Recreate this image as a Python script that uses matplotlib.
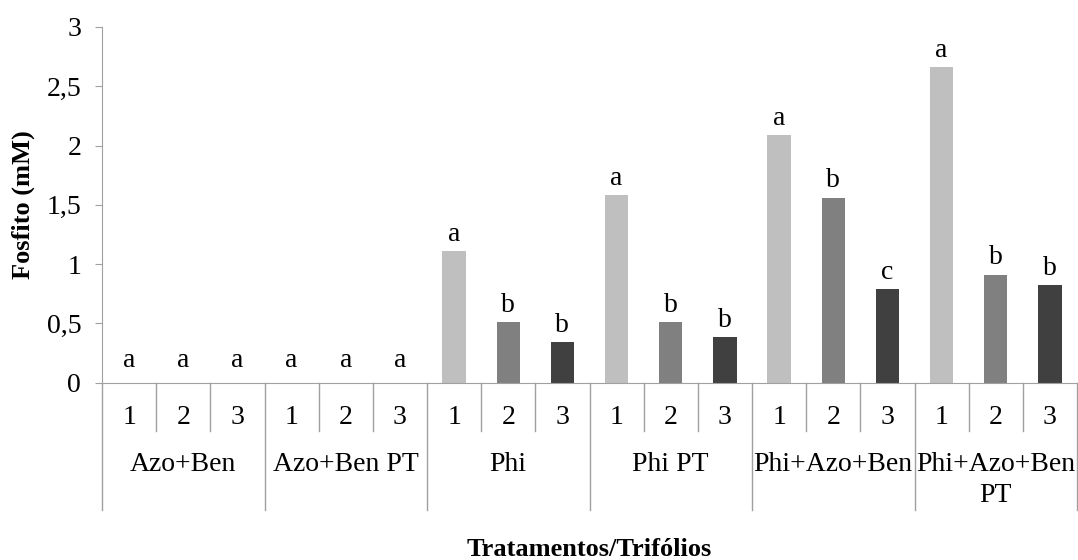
import matplotlib
matplotlib.use("Agg")
import matplotlib.pyplot as plt
from matplotlib.ticker import FuncFormatter

plt.rcParams['font.family'] = ['Liberation Serif', 'DejaVu Serif']

# Dados
tratamentos = ['Azo+Ben', 'Azo+Ben PT', 'Phi', 'Phi PT', 'Phi+Azo+Ben', 'Phi+Azo+Ben\nPT']
trifolios = ['1', '2', '3']
fosfito = [
    [0.0, 0.0, 0.0],
    [0.0, 0.0, 0.0],
    [1.11, 0.51, 0.34],
    [1.58, 0.51, 0.38],
    [2.09, 1.56, 0.79],
    [2.66, 0.91, 0.82],
]
letras = [
    ['a', 'a', 'a'],
    ['a', 'a', 'a'],
    ['a', 'b', 'b'],
    ['a', 'b', 'b'],
    ['a', 'b', 'c'],
    ['a', 'b', 'b'],
]
cores = ['#BFBFBF', '#808080', '#404040']
cinza = '#A0A0A0'

W, H = 1078, 560
fig = plt.figure(figsize=(W / 100, H / 100), dpi=100)
x0, x1, y_top, y_zero = 102, 1077, 27, 382.5
ax = fig.add_axes([x0 / W, 1 - y_zero / H, (x1 - x0) / W, (y_zero - y_top) / H])

n = len(trifolios)
fs = 20
for g, vals in enumerate(fosfito):
    for i, v in enumerate(vals):
        pos = g * n + i
        ax.bar(pos, v, width=0.43, color=cores[i], zorder=2)
        desloc = 3 if v > 0 else 7
        ax.annotate(letras[g][i], (pos, v), xytext=(0, desloc), textcoords='offset points',
                    ha='center', va='bottom', fontsize=fs)

total = len(tratamentos) * n
ax.set_xlim(-0.5, total - 0.5)
ax.set_ylim(0, 3)
ax.set_yticks([0, 0.5, 1, 1.5, 2, 2.5, 3])
ax.yaxis.set_major_formatter(FuncFormatter(lambda v, p: ('%g' % v).replace('.', ',')))
ax.tick_params(axis='y', length=5, color=cinza, labelsize=fs, pad=10)
ax.set_xticks([])
for s in ['top', 'right']:
    ax.spines[s].set_visible(False)
ax.spines['left'].set_color(cinza)
ax.spines['bottom'].set_color(cinza)

# eixo de categorias em dois niveis
alt = y_zero - y_top
def fy(px):
    return -(px - y_zero) / alt

for k in range(total + 1):
    baixo = 510 if k % n == 0 else 431
    ax.plot([k - 0.5, k - 0.5], [0, fy(baixo)], color=cinza, lw=1,
            transform=ax.get_xaxis_transform(), clip_on=False)
for k in range(total):
    ax.text(k, fy(418), trifolios[k % n], ha='center', va='center', fontsize=fs,
            transform=ax.get_xaxis_transform())
for g, nome in enumerate(tratamentos):
    ax.text(g * n + 1, fy(452), nome, ha='center', va='top', fontsize=fs,
            linespacing=1.3, transform=ax.get_xaxis_transform())

fig.text(23 / W, 1 - 205 / H, 'Fosfito (mM)', rotation=90, ha='center', va='center',
         fontsize=19, fontweight='bold')
fig.text((x0 + x1) / 2 / W, 1 - 549 / H, 'Tratamentos/Trifólios', ha='center', va='center',
         fontsize=19, fontweight='bold')

fig.savefig('out.png', dpi=100)
